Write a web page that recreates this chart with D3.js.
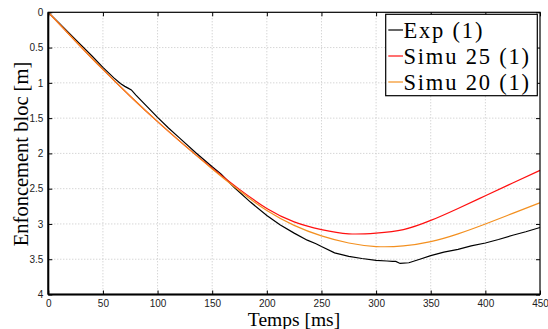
<!DOCTYPE html>
<html><head><meta charset="utf-8">
<script src="https://cdn.jsdelivr.net/npm/d3@7"></script>
<style>body{margin:0;background:#fff}svg{display:block}</style>
</head><body>
<script>
const xTicks = [0,50,100,150,200,250,300,350,400,450];
const yTicks = [0,0.5,1,1.5,2,2.5,3,3.5,4];
const yTickLabels = ["0","0.5","1","1.5","2","2.5","3","3.5","4"];

const expT = [0,10,20,31,40,50,60,66,70,73,76,80,90,100,110,120,135,150,158,170,185,200,212,225,237,245,250,262,275,287,300,310,315,318,322,330,340,350,362,375,387,400,412,425,437,450];
const expD = [0,0.155,0.31,0.48,0.62,0.78,0.93,1.01,1.05,1.075,1.10,1.17,1.33,1.49,1.64,1.78,1.99,2.19,2.29,2.48,2.69,2.88,3.01,3.13,3.23,3.28,3.32,3.41,3.46,3.49,3.515,3.525,3.53,3.53,3.56,3.55,3.50,3.45,3.40,3.36,3.31,3.27,3.22,3.16,3.11,3.05];

const simT = [0,25,50,75,100,125,150,175,200,225,250,275,300,325,350,375,400,425,450];
const simu25 = [0,0.41,0.81,1.19,1.55,1.89,2.21,2.51,2.78,2.97,3.08,3.14,3.13,3.08,2.95,2.78,2.60,2.42,2.24];
const simu20 = [0,0.41,0.81,1.19,1.55,1.89,2.22,2.53,2.81,3.02,3.17,3.27,3.32,3.31,3.25,3.14,3.00,2.85,2.70];

const seriesNames = ["Exp (1)","Simu 25 (1)","Simu 20 (1)"];
const seriesColors = ["#000000","#ff1010","#f39020"];

const W=548,H=329;
const L=48.3,R=540,T=12.3,B=294.5;
const svg=d3.select("body").append("svg").attr("width",W).attr("height",H);
const x=d3.scaleLinear().domain([0,450]).range([L,R]);
const y=d3.scaleLinear().domain([0,4]).range([T,B]);

// grid
const g=svg.append("g");
g.selectAll(".gx").data(xTicks.slice(1,-1)).enter().append("line")
 .attr("x1",d=>x(d)).attr("x2",d=>x(d)).attr("y1",T).attr("y2",B)
 .attr("stroke","#c4c4c4").attr("stroke-width",1).attr("stroke-dasharray","1,2");
g.selectAll(".gy").data(yTicks.slice(1,-1)).enter().append("line")
 .attr("y1",d=>y(d)).attr("y2",d=>y(d)).attr("x1",L).attr("x2",R)
 .attr("stroke","#c4c4c4").attr("stroke-width",1).attr("stroke-dasharray","1,2");

// lines
const series=[
  expT.map((t,i)=>[t,expD[i]]),
  simT.map((t,i)=>[t,simu25[i]]),
  simT.map((t,i)=>[t,simu20[i]])
];
const lineLin=d3.line().x(d=>x(d[0])).y(d=>y(d[1]));
const lineSm=d3.line().x(d=>x(d[0])).y(d=>y(d[1])).curve(d3.curveNatural);
series.forEach((s,i)=>{
  svg.append("path").attr("d",(i===0?lineLin:lineSm)(s)).attr("fill","none")
   .attr("stroke",seriesColors[i]).attr("stroke-width",1.2);
});

// axes
const fontT="'Liberation Sans', Arial, sans-serif";
const ax=svg.append("g").attr("transform",`translate(0,${B})`)
 .call(d3.axisBottom(x).tickValues(xTicks).tickSize(-4).tickPadding(5).tickFormat(d3.format("d")));
const ay=svg.append("g").attr("transform",`translate(${L},0)`)
 .call(d3.axisLeft(y).tickValues(yTicks).tickSize(-4).tickPadding(5).tickFormat((d,i)=>yTickLabels[i]));
const axT=svg.append("g").attr("transform",`translate(0,${T})`)
 .call(d3.axisTop(x).tickValues(xTicks).tickSize(-4).tickFormat(""));
const ayR=svg.append("g").attr("transform",`translate(${R},0)`)
 .call(d3.axisRight(y).tickValues(yTicks).tickSize(-4).tickFormat(""));
[ax,ay,axT,ayR].forEach(a=>{
  a.select(".domain").remove();
  a.selectAll("line").attr("stroke","#000").attr("stroke-width",1);
  a.selectAll("text").attr("font-family",fontT).attr("font-size",10).attr("fill","#222");
});
// frame
svg.append("rect").attr("x",L).attr("y",T).attr("width",R-L).attr("height",B-T)
 .attr("fill","none").attr("stroke","#000").attr("stroke-width",1.2);
svg.append("line").attr("x1",L).attr("x2",R).attr("y1",B).attr("y2",B).attr("stroke","#000").attr("stroke-width",2);
svg.append("line").attr("x1",L).attr("x2",L).attr("y1",T).attr("y2",B).attr("stroke","#000").attr("stroke-width",2);

// axis labels
const fontS="'Liberation Serif','Times New Roman',serif";
svg.append("text").attr("x",294).attr("y",325.5).attr("text-anchor","middle")
 .attr("font-family",fontS).attr("font-size",19.5).text("Temps [ms]");
svg.append("text").attr("transform","translate(28,154) rotate(-90)").attr("text-anchor","middle")
 .attr("font-family",fontS).attr("font-size",20.5).text("Enfoncement bloc [m]");

// legend
const lg=svg.append("g");
lg.append("rect").attr("x",385.7).attr("y",14.3).attr("width",151.6).attr("height",81.4)
 .attr("fill","#fff").attr("stroke","#000").attr("stroke-width",1.2);
seriesNames.forEach((n,i)=>{
  const yy=30+i*26;
  lg.append("line").attr("x1",388.3).attr("x2",403).attr("y1",yy).attr("y2",yy)
   .attr("stroke",seriesColors[i]).attr("stroke-width",1.2);
  lg.append("text").attr("x",403.5).attr("y",yy+7.5).attr("font-family",fontS)
   .attr("font-size",22.5).attr("letter-spacing",1.8).text(n);
});
</script>
</body></html>
